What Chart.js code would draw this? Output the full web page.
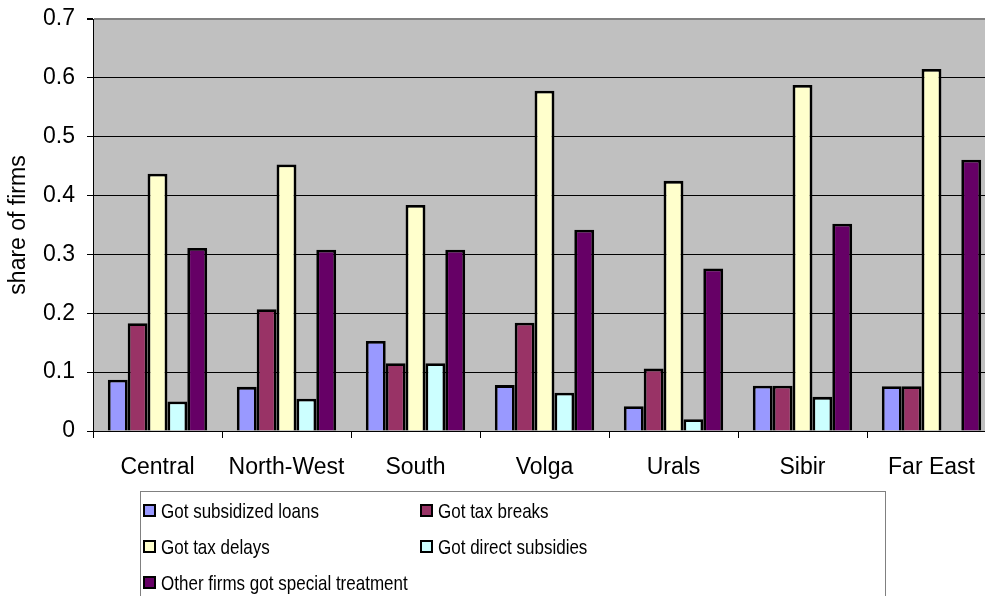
<!DOCTYPE html>
<html>
<head>
<meta charset="utf-8">
<script src="https://cdn.jsdelivr.net/npm/chart.js@4"></script>
<style>
    html, body { margin: 0; padding: 0; background: #fff; overflow: hidden; }
    #wrap { position: relative; width: 985px; height: 596px; overflow: hidden; }
    #chart { position: absolute; left: 0; top: 0; }
    #legend {
        position: absolute; left: 140px; top: 491px; width: 746px; height: 120px;
        border: 1px solid #808080; box-sizing: border-box;
        font-family: "Liberation Sans", Arial, sans-serif; font-size: 21px; color: #000;
    }
    .item { position: absolute; white-space: nowrap; line-height: 22px; }
    .swatch {
        display: inline-block; width: 9px; height: 9px; border: 2px solid #000;
        margin-right: 5px; vertical-align: 1px;
    }
    .txt { display: inline-block; transform: scaleX(0.81); transform-origin: left center; }
</style>
</head>
<body>
<div id="wrap">
    <canvas id="chart" width="1000" height="596"></canvas>
    <div id="legend"></div>
</div>
<script>
// --- Data ---
const regions = ['Central', 'North-West', 'South', 'Volga', 'Urals', 'Sibir', 'Far East'];
const subsidizedLoans = [0.087, 0.075, 0.153, 0.078, 0.042, 0.077, 0.076];
const taxBreaks = [0.183, 0.207, 0.115, 0.184, 0.106, 0.077, 0.076];
const taxDelays = [0.437, 0.453, 0.384, 0.578, 0.425, 0.588, 0.615];
const directSubsidies = [0.050, 0.055, 0.115, 0.065, 0.020, 0.058, null];
const specialTreatment = [0.311, 0.308, 0.308, 0.342, 0.276, 0.352, 0.461];
const yTickLabels = ['0', '0.1', '0.2', '0.3', '0.4', '0.5', '0.6', '0.7'];

const seriesNames = ['Got subsidized loans', 'Got tax breaks', 'Got tax delays', 'Got direct subsidies', 'Other firms got special treatment'];
const seriesColors = ['#9999FF', '#993366', '#FFFFCC', '#CCFFFF', '#660066'];
const seriesValues = [subsidizedLoans, taxBreaks, taxDelays, directSubsidies, specialTreatment];

const font = { family: '"Liberation Sans", Arial, sans-serif', size: 23 };

const datasets = seriesNames.map((name, i) => ({
    label: name,
    data: seriesValues[i],
    backgroundColor: seriesColors[i],
    borderColor: '#000',
    borderWidth: 2.8,
    borderSkipped: 'bottom',
    categoryPercentage: 0.77,
    barPercentage: 1.0
}));

new Chart(document.getElementById('chart'), {
    type: 'bar',
    data: { labels: regions, datasets },
    options: {
        responsive: false,
        animation: false,
        layout: { padding: { top: 19, right: 4, left: 0, bottom: 115 } },
        plugins: {
            legend: { display: false },
            tooltip: { enabled: false }
        },
        scales: {
            x: {
                offset: true,
                grid: { display: true, drawOnChartArea: false, drawTicks: true, tickLength: 7, color: '#000', offset: true },
                border: { color: '#000', width: 1 },
                ticks: { color: '#000', font, padding: 16, maxRotation: 0 },
                afterFit: (axis) => { axis.height = 50; axis.paddingLeft = 0; axis.paddingRight = 0; }
            },
            y: {
                min: 0,
                max: 0.7,
                grid: {
                    color: (ctx) => ctx.index === 7 ? '#808080' : '#000',
                    lineWidth: (ctx) => ctx.index === 7 ? 2 : 1,
                    tickLength: 6,
                    tickColor: '#000'
                },
                border: { color: '#000', width: 1 },
                ticks: {
                    stepSize: 0.1,
                    color: '#000',
                    font,
                    padding: 12,
                    callback: (v, i) => yTickLabels[i]
                },
                title: { display: true, text: 'share of firms', color: '#000', font: { family: font.family, size: 23 }, padding: { top: 5, bottom: 0 } },
                afterFit: (axis) => { axis.width = 93; axis.paddingTop = 0; axis.paddingBottom = 0; }
            }
        }
    },
    plugins: [{
        id: 'plotBg',
        beforeDraw(chart) {
            const a = chart.chartArea;
            const ctx = chart.ctx;
            ctx.save();
            ctx.fillStyle = '#C0C0C0';
            ctx.fillRect(a.left, a.top, a.right - a.left, a.bottom - a.top);
            ctx.restore();
        }
    }]
});

// --- Legend ---
const legend = document.getElementById('legend');
const slots = [[2, 8], [279, 8], [2, 44], [279, 44], [2, 80]];
seriesNames.forEach((name, i) => {
    const el = document.createElement('div');
    el.className = 'item';
    el.style.left = slots[i][0] + 'px';
    el.style.top = slots[i][1] + 'px';
    el.innerHTML = '<span class="swatch" style="background:' + seriesColors[i] + '"></span><span class="txt">' + name + '</span>';
    legend.appendChild(el);
});
</script>
</body>
</html>
